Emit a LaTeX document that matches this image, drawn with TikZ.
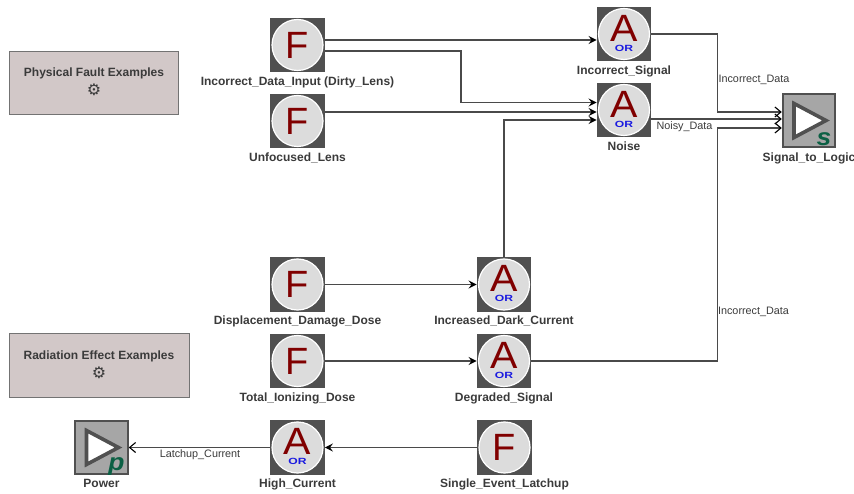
\documentclass[tikz,border=0pt]{standalone}
\usepackage{fontspec}
\setmainfont{Liberation Sans}
\newfontfamily\gearfont{DejaVu Sans}
\usetikzlibrary{positioning,arrows.meta}
\definecolor{blockgray}{HTML}{505050}
\definecolor{diskgray}{HTML}{DCDCDC}
\definecolor{notegray}{HTML}{D2C8C8}
\definecolor{letterred}{HTML}{800000}
\definecolor{tagblue}{HTML}{1A1AE0}
\definecolor{tipgreen}{HTML}{0B6044}
\definecolor{inkgray}{HTML}{3A3A3A}
\definecolor{wiregray}{HTML}{4A4A4A}
\tikzset{
  blockbox/.style={rectangle,fill=blockgray,minimum size=54.5pt,inner sep=0pt},
  diskface/.style={circle,draw=white,line width=1.2pt,fill=diskgray,minimum size=51pt,inner sep=0pt},
  triggerbox/.style={rectangle,draw=blockgray,line width=2pt,fill=black!35,minimum size=52.5pt,inner sep=0pt},
  blocklabel/.style={font=\fontsize{12}{14}\selectfont\bfseries,text=inkgray,inner sep=0pt},
  wirelabel/.style={font=\fontsize{10.8}{12}\selectfont,text=inkgray,inner sep=0pt},
  notebox/.style={rectangle,draw=black!55,line width=0.8pt,fill=notegray,inner sep=0pt},
  wire/.style={draw=wiregray,line width=1.1pt},
  fedwire/.style={wire,-{Stealth[black,length=8pt,width=8pt,inset=3pt]}},
  barbwire/.style={wire,-{Straight Barb[black,length=6pt,width=10pt]}},
}
\begin{document}
\begin{tikzpicture}[x=1pt,y=-1pt]
\useasboundingbox (0,0) rectangle (854,494);
% note boxes
\node[notebox,minimum width=169pt,minimum height=63pt] (physical) at (93.5,82.5) {};
\node[notebox,minimum width=180pt,minimum height=64pt] (radiation) at (99,365) {};
\node[blocklabel] (physical-txt) at (94,73.5) {Physical Fault Examples};
\node[blocklabel] (radiation-txt) at (99,356.5) {Radiation Effect Examples};
\node[font=\gearfont\fontsize{16}{16}\selectfont,text=inkgray,inner sep=0pt] (physical-gear) at (94,90) {⚙};
\node[font=\gearfont\fontsize{16}{16}\selectfont,text=inkgray,inner sep=0pt] (radiation-gear) at (99,373) {⚙};
% fault blocks
\foreach \nm/\xx/\yy/\txt in {
  input/297.5/45/Incorrect\_Data\_Input (Dirty\_Lens),
  unfocused/297.5/121/Unfocused\_Lens,
  displacement/297.5/284.5/Displacement\_Damage\_Dose,
  ionizing/297.5/361/Total\_Ionizing\_Dose,
  latchup/504.5/447.5/Single\_Event\_Latchup} {
  \node[blockbox] (\nm) at (\xx,\yy) {};
  \node[diskface,font=\fontsize{38}{38}\selectfont,text=letterred] (\nm-disk) at (\nm.center) {F};
  \node[blocklabel,below=4pt of \nm] (\nm-lbl) {\txt};
}
% or blocks
\foreach \nm/\xx/\yy/\txt in {
  signal/624/34/Incorrect\_Signal,
  noise/624/110/Noise,
  dark/504/284.5/Increased\_Dark\_Current,
  degraded/504/361/Degraded\_Signal,
  current/297.5/447.5/High\_Current} {
  \node[blockbox] (\nm) at (\xx,\yy) {};
  \node[diskface] (\nm-disk) at (\nm.center) {};
  \node[font=\fontsize{38}{38}\selectfont,text=letterred,inner sep=0pt,xscale=1.08] (\nm-a) at ([yshift=6pt]\nm.center) {A};
  \node[font=\fontsize{9}{9}\selectfont\bfseries,text=tagblue,inner sep=0pt,xscale=1.35] (\nm-or) at ([yshift=-14.2pt]\nm.center) {OR};
  \node[blocklabel,below=4pt of \nm] (\nm-lbl) {\txt};
}
% trigger blocks
\foreach \nm/\xx/\yy/\txt/\tag/\dy in {
  logic/809/120.5/Signal\_to\_Logic/s/18.5,
  power/101.5/447.5/Power/p/19} {
  \node[triggerbox] (\nm) at (\xx,\yy) {};
  \draw[blockgray,fill=white,line width=3.6pt,line join=miter] ([shift={(-15,-17)}]\nm.center) -- ([shift={(17,0)}]\nm.center) -- ([shift={(-15,17)}]\nm.center) -- cycle;
  \node[font=\fontsize{24}{24}\selectfont\bfseries\itshape,text=tipgreen,inner sep=0pt,xscale=1.1] (\nm-tag) at ([shift={(15,\dy)}]\nm.center) {\tag};
  \node[blocklabel,below=4.5pt of \nm] (\nm-lbl) {\txt};
}
% wires
\draw[fedwire] ([yshift=5pt]input.east) -- ([yshift=-6pt]signal.west);
\draw[fedwire] ([yshift=-6pt]input.east) -- ++(136,0) |- ([yshift=7.5pt]noise.west);
\draw[fedwire] ([yshift=9pt]unfocused.east) -- ([yshift=-2pt]noise.west);
\draw[fedwire] (dark.north) |- ([yshift=-10pt]noise.west);
\draw[fedwire] (displacement.east) -- (dark.west);
\draw[fedwire] (ionizing.east) -- (degraded.west);
\draw[barbwire] (signal.east) -- ++(66,0) |- ([yshift=8.5pt]logic.west);
\draw[barbwire] ([yshift=-9pt]noise.east) -- ([yshift=1.5pt]logic.west);
\draw[barbwire] (degraded.east) -- ++(186,0) |- ([yshift=-7.5pt]logic.west);
\draw[fedwire] (latchup.west) -- (current.east);
\draw[barbwire] (current.west) -- (power.east);
% wire labels
\node[wirelabel] (signal-wire) at (754,80) {Incorrect\_Data};
\node[wirelabel] (noise-wire) at (684.5,127) {Noisy\_Data};
\node[wirelabel] (degraded-wire) at (753.5,312) {Incorrect\_Data};
\node[wirelabel] (current-wire) at (200,455) {Latchup\_Current};
\end{tikzpicture}
\end{document}
